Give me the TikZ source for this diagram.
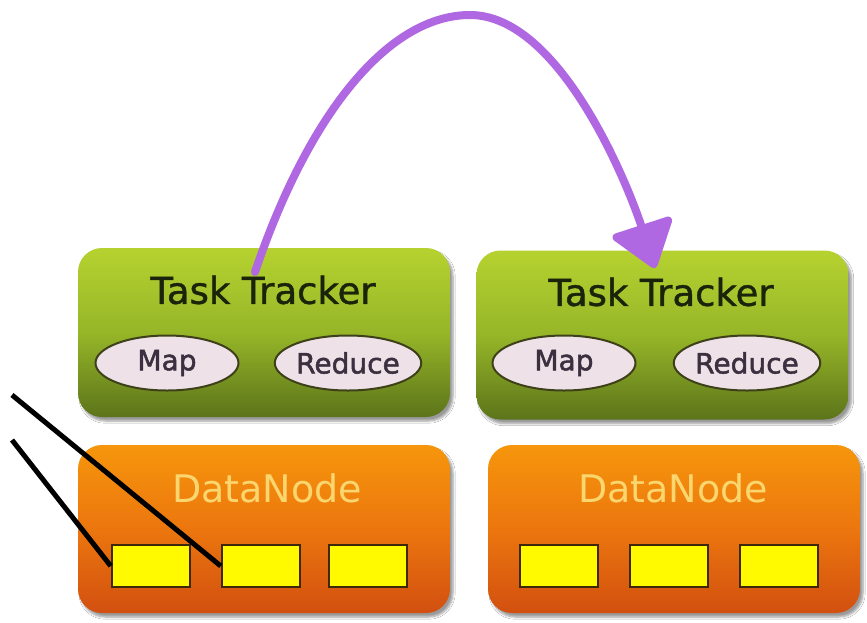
\documentclass[tikz,border=0pt]{standalone}
\usepackage{fontspec}
\setmainfont{DejaVu Sans}
\newfontfamily\heavyfont{DejaVu Sans}[FakeBold=1.2]
\newfontfamily\ovalfont{DejaVu Sans}[FakeBold=1.8]
\usetikzlibrary{arrows.meta,shadows.blur,shapes.geometric}

\definecolor{greenTop}{RGB}{182,210,48}
\definecolor{greenMid}{RGB}{150,182,40}
\definecolor{greenBot}{RGB}{92,116,26}
\definecolor{orangeTop}{RGB}{246,150,12}
\definecolor{orangeMid}{RGB}{236,118,14}
\definecolor{orangeBot}{RGB}{210,80,16}
\definecolor{ovalFill}{RGB}{238,226,232}
\definecolor{ovalLine}{RGB}{62,64,26}
\definecolor{ovalText}{RGB}{60,48,64}
\definecolor{trackerText}{RGB}{26,36,10}
\definecolor{dataText}{RGB}{250,214,110}
\definecolor{blockFill}{RGB}{255,250,0}
\definecolor{blockLine}{RGB}{62,40,10}
\definecolor{arcPurple}{RGB}{176,104,226}

\tikzset{
  trackerbox/.style={rectangle, rounded corners=24pt, inner sep=0pt,
    minimum width=372pt, minimum height=169pt,
    top color=greenTop, bottom color=greenBot, middle color=greenMid,
    blur shadow={shadow xshift=3pt, shadow yshift=-4pt, shadow blur steps=6, shadow opacity=40}},
  databox/.style={rectangle, rounded corners=24pt, inner sep=0pt,
    minimum width=372pt, minimum height=168pt,
    top color=orangeTop, bottom color=orangeBot, middle color=orangeMid,
    blur shadow={shadow xshift=3pt, shadow yshift=-4pt, shadow blur steps=6, shadow opacity=40}},
  oval/.style={ellipse, inner sep=0pt, minimum width=143pt, minimum height=55pt,
    fill=ovalFill, draw=ovalLine, line width=2pt, text=ovalText,
    font=\ovalfont\fontsize{28}{31}\selectfont},
  block/.style={rectangle, inner sep=0pt, minimum width=78pt, minimum height=42pt,
    fill=blockFill, draw=blockLine, line width=2.5pt},
  trackerlabel/.style={text=trackerText, font=\heavyfont\fontsize{37}{40}\selectfont, inner sep=0pt},
  datalabel/.style={text=dataText, font=\fontsize{38}{41}\selectfont, inner sep=0pt},
  feed/.style={line width=5pt, black},
  hop/.style={line width=8pt, arcPurple, line cap=round,
    -{Triangle[length=48pt,width=68pt,round]}}
}

\begin{document}
\begin{tikzpicture}[x=1pt,y=-1pt]
\useasboundingbox (0,0) rectangle (867,622);
\fill[white] (0,0) rectangle (867,622);

% task trackers
\node[trackerbox] (tt1) at (264,332.5) {};
\node[trackerbox] (tt2) at (662.5,335) {};
\node[trackerlabel] (tt1l) at (263,290) {Task Tracker};
\node[trackerlabel] (tt2l) at (661,292) {Task Tracker};
\node[oval] (map1) at (167,363) {Map};
\node[oval] (red1) at (348,363) {Reduce};
\node[oval] (map2) at (564,363) {Map};
\node[oval] (red2) at (747,363) {Reduce};

% data nodes
\node[databox] (dn1) at (264,529) {};
\node[databox] (dn2) at (674,529) {};
\node[datalabel] (dn1l) at (267,488) {DataNode};
\node[datalabel] (dn2l) at (673,488) {DataNode};

% blocks
\node[block] (b11) at (151,566) {};
\node[block] (b12) at (261,566) {};
\node[block] (b13) at (368,566) {};
\node[block] (b21) at (559,566) {};
\node[block] (b22) at (669,566) {};
\node[block] (b23) at (779,566) {};

% incoming lines
\coordinate (in1) at (12,395);
\coordinate (in2) at (12,440);
\draw[feed] (in1) -- (b12.west);
\draw[feed] (in2) -- (b11.west);

% hop between trackers
\coordinate (hopA) at (255,272);
\coordinate (hopTop) at (470,15);
\coordinate (hopB) at (655,268);
\draw[hop] (hopA) .. controls (310,110) and (390,15) .. (hopTop)
  .. controls (560,15) and (628,185) .. (hopB);
\end{tikzpicture}
\end{document}
